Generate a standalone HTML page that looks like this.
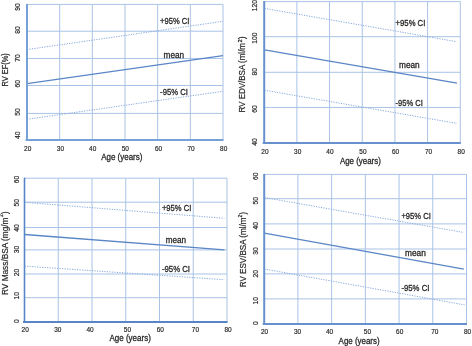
<!DOCTYPE html>
<html><head><meta charset="utf-8"><style>
html,body{margin:0;padding:0;background:#fff;}
svg{display:block;will-change:transform;filter:blur(0.3px);}
text{font-family:"Liberation Sans", sans-serif;fill:#262626;stroke:#262626;stroke-width:0.28px;}
.tk{stroke-width:0.18px;}
.yt{stroke-width:0.2px;}
</style></head><body>
<svg width="472" height="346" viewBox="0 0 472 346">
<rect width="472" height="346" fill="#fff"/>
<line x1="59.67" y1="4.4" x2="59.67" y2="140" stroke="#a9c3e6" stroke-width="1"/>
<line x1="92.33" y1="4.4" x2="92.33" y2="140" stroke="#a9c3e6" stroke-width="1"/>
<line x1="125" y1="4.4" x2="125" y2="140" stroke="#a9c3e6" stroke-width="1"/>
<line x1="157.67" y1="4.4" x2="157.67" y2="140" stroke="#a9c3e6" stroke-width="1"/>
<line x1="190.33" y1="4.4" x2="190.33" y2="140" stroke="#a9c3e6" stroke-width="1"/>
<line x1="223" y1="4.4" x2="223" y2="140" stroke="#a9c3e6" stroke-width="1"/>
<line x1="27" y1="4.4" x2="223" y2="4.4" stroke="#a9c3e6" stroke-width="1"/>
<line x1="27" y1="31.2" x2="223" y2="31.2" stroke="#a9c3e6" stroke-width="1"/>
<line x1="27" y1="58.45" x2="223" y2="58.45" stroke="#a9c3e6" stroke-width="1"/>
<line x1="27" y1="85.5" x2="223" y2="85.5" stroke="#a9c3e6" stroke-width="1"/>
<line x1="27" y1="113.4" x2="223" y2="113.4" stroke="#a9c3e6" stroke-width="1"/>
<line x1="27" y1="49.6" x2="223" y2="21.3" stroke="#86a9dc" stroke-width="1" stroke-dasharray="1.2 1.3"/>
<line x1="27" y1="83.7" x2="223" y2="55.7" stroke="#5a86c6" stroke-width="1.3"/>
<line x1="27" y1="119.3" x2="223" y2="91.3" stroke="#86a9dc" stroke-width="1" stroke-dasharray="1.2 1.3"/>
<line x1="27" y1="3.9" x2="27" y2="141" stroke="#76a1d7" stroke-width="2"/>
<line x1="25.5" y1="140" x2="223.5" y2="140" stroke="#76a1d7" stroke-width="2"/>
<text transform="translate(19.5,135.3) rotate(-90)" x="0" y="0" class="tk" text-anchor="middle" font-size="7" textLength="7.5" lengthAdjust="spacingAndGlyphs">40</text>
<text transform="translate(19.5,111.9) rotate(-90)" x="0" y="0" class="tk" text-anchor="middle" font-size="7" textLength="7.5" lengthAdjust="spacingAndGlyphs">50</text>
<text transform="translate(19.5,83.7) rotate(-90)" x="0" y="0" class="tk" text-anchor="middle" font-size="7" textLength="7.5" lengthAdjust="spacingAndGlyphs">60</text>
<text transform="translate(19.5,58.1) rotate(-90)" x="0" y="0" class="tk" text-anchor="middle" font-size="7" textLength="7.5" lengthAdjust="spacingAndGlyphs">70</text>
<text transform="translate(19.5,30.1) rotate(-90)" x="0" y="0" class="tk" text-anchor="middle" font-size="7" textLength="7.5" lengthAdjust="spacingAndGlyphs">80</text>
<text transform="translate(19.5,7.1) rotate(-90)" x="0" y="0" class="tk" text-anchor="middle" font-size="7" textLength="7.5" lengthAdjust="spacingAndGlyphs">90</text>
<text x="27.7" y="151" class="tk" text-anchor="middle" font-size="7" textLength="7.2" lengthAdjust="spacingAndGlyphs">20</text>
<text x="60.4" y="151" class="tk" text-anchor="middle" font-size="7" textLength="7.2" lengthAdjust="spacingAndGlyphs">30</text>
<text x="92.7" y="151" class="tk" text-anchor="middle" font-size="7" textLength="7.2" lengthAdjust="spacingAndGlyphs">40</text>
<text x="125.3" y="151" class="tk" text-anchor="middle" font-size="7" textLength="7.2" lengthAdjust="spacingAndGlyphs">50</text>
<text x="158.5" y="151" class="tk" text-anchor="middle" font-size="7" textLength="7.2" lengthAdjust="spacingAndGlyphs">60</text>
<text x="191" y="151" class="tk" text-anchor="middle" font-size="7" textLength="7.2" lengthAdjust="spacingAndGlyphs">70</text>
<text x="223.7" y="151" class="tk" text-anchor="middle" font-size="7" textLength="7.2" lengthAdjust="spacingAndGlyphs">80</text>
<text x="101.2" y="159.6" font-size="8.8" textLength="41.2" lengthAdjust="spacingAndGlyphs">Age (years)</text>
<text transform="translate(8,86.6) rotate(-90)" x="0" y="0" class="yt" font-size="8.3" textLength="33.4" lengthAdjust="spacingAndGlyphs">RV EF(%)</text>
<text x="160.1" y="24" font-size="8.3" textLength="29.3" lengthAdjust="spacingAndGlyphs">+95% CI</text>
<text x="163.6" y="57.7" font-size="8.3" textLength="20.5" lengthAdjust="spacingAndGlyphs">mean</text>
<text x="160.1" y="94.5" font-size="8.3" textLength="27.8" lengthAdjust="spacingAndGlyphs">-95% CI</text>
<line x1="296.88" y1="1.6" x2="296.88" y2="143" stroke="#a9c3e6" stroke-width="1"/>
<line x1="329.57" y1="1.6" x2="329.57" y2="143" stroke="#a9c3e6" stroke-width="1"/>
<line x1="362.25" y1="1.6" x2="362.25" y2="143" stroke="#a9c3e6" stroke-width="1"/>
<line x1="394.93" y1="1.6" x2="394.93" y2="143" stroke="#a9c3e6" stroke-width="1"/>
<line x1="427.62" y1="1.6" x2="427.62" y2="143" stroke="#a9c3e6" stroke-width="1"/>
<line x1="460.3" y1="1.6" x2="460.3" y2="143" stroke="#a9c3e6" stroke-width="1"/>
<line x1="264.2" y1="1.6" x2="460.3" y2="1.6" stroke="#a9c3e6" stroke-width="1"/>
<line x1="264.2" y1="36.7" x2="460.3" y2="36.7" stroke="#a9c3e6" stroke-width="1"/>
<line x1="264.2" y1="72.3" x2="460.3" y2="72.3" stroke="#a9c3e6" stroke-width="1"/>
<line x1="264.2" y1="107.45" x2="460.3" y2="107.45" stroke="#a9c3e6" stroke-width="1"/>
<line x1="264.5" y1="8.4" x2="456.8" y2="41.7" stroke="#86a9dc" stroke-width="1" stroke-dasharray="1.2 1.3"/>
<line x1="264.5" y1="49.9" x2="457" y2="83.2" stroke="#5a86c6" stroke-width="1.3"/>
<line x1="264.5" y1="90.2" x2="457" y2="123.4" stroke="#86a9dc" stroke-width="1" stroke-dasharray="1.2 1.3"/>
<line x1="264.2" y1="1.1" x2="264.2" y2="144" stroke="#6691cd" stroke-width="2"/>
<line x1="262.7" y1="143" x2="460.8" y2="143" stroke="#6691cd" stroke-width="2"/>
<text transform="translate(256.9,141.9) rotate(-90)" x="0" y="0" class="tk" text-anchor="middle" font-size="7" textLength="7.5" lengthAdjust="spacingAndGlyphs">40</text>
<text transform="translate(256.9,108.9) rotate(-90)" x="0" y="0" class="tk" text-anchor="middle" font-size="7" textLength="7.5" lengthAdjust="spacingAndGlyphs">60</text>
<text transform="translate(256.9,71.8) rotate(-90)" x="0" y="0" class="tk" text-anchor="middle" font-size="7" textLength="7.5" lengthAdjust="spacingAndGlyphs">80</text>
<text transform="translate(256.9,38.2) rotate(-90)" x="0" y="0" class="tk" text-anchor="middle" font-size="7" textLength="11.25" lengthAdjust="spacingAndGlyphs">100</text>
<text transform="translate(256.9,5.5) rotate(-90)" x="0" y="0" class="tk" text-anchor="middle" font-size="7" textLength="11.25" lengthAdjust="spacingAndGlyphs">120</text>
<text x="264.9" y="154.3" class="tk" text-anchor="middle" font-size="7" textLength="7.2" lengthAdjust="spacingAndGlyphs">20</text>
<text x="297.7" y="154.3" class="tk" text-anchor="middle" font-size="7" textLength="7.2" lengthAdjust="spacingAndGlyphs">30</text>
<text x="329.9" y="154.3" class="tk" text-anchor="middle" font-size="7" textLength="7.2" lengthAdjust="spacingAndGlyphs">40</text>
<text x="362.9" y="154.3" class="tk" text-anchor="middle" font-size="7" textLength="7.2" lengthAdjust="spacingAndGlyphs">50</text>
<text x="395.5" y="154.3" class="tk" text-anchor="middle" font-size="7" textLength="7.2" lengthAdjust="spacingAndGlyphs">60</text>
<text x="428.5" y="154.3" class="tk" text-anchor="middle" font-size="7" textLength="7.2" lengthAdjust="spacingAndGlyphs">70</text>
<text x="461.2" y="154.3" class="tk" text-anchor="middle" font-size="7" textLength="7.2" lengthAdjust="spacingAndGlyphs">80</text>
<text x="339.9" y="164.1" font-size="8.8" textLength="40.9" lengthAdjust="spacingAndGlyphs">Age (years)</text>
<text transform="translate(245.3,112.5) rotate(-90)" x="0" y="0" class="yt" font-size="8.3" textLength="69.5" lengthAdjust="spacingAndGlyphs">RV EDV/BSA (ml/m</text>
<text transform="translate(241.6,42.2) rotate(-90)" x="0" y="0" font-size="4.6" textLength="2.8" lengthAdjust="spacingAndGlyphs">2</text>
<text transform="translate(245.3,39) rotate(-90)" x="0" y="0" class="yt" font-size="8.3" textLength="2.5" lengthAdjust="spacingAndGlyphs">)</text>
<text x="395.6" y="26.1" font-size="8.3" textLength="29.7" lengthAdjust="spacingAndGlyphs">+95% CI</text>
<text x="399" y="67.7" font-size="8.3" textLength="20.7" lengthAdjust="spacingAndGlyphs">mean</text>
<text x="395.6" y="106.1" font-size="8.3" textLength="27.3" lengthAdjust="spacingAndGlyphs">-95% CI</text>
<line x1="58.25" y1="178.2" x2="58.25" y2="321.9" stroke="#a9c3e6" stroke-width="1"/>
<line x1="92" y1="178.2" x2="92" y2="321.9" stroke="#a9c3e6" stroke-width="1"/>
<line x1="125.75" y1="178.2" x2="125.75" y2="321.9" stroke="#a9c3e6" stroke-width="1"/>
<line x1="159.5" y1="178.2" x2="159.5" y2="321.9" stroke="#a9c3e6" stroke-width="1"/>
<line x1="193.25" y1="178.2" x2="193.25" y2="321.9" stroke="#a9c3e6" stroke-width="1"/>
<line x1="227" y1="178.2" x2="227" y2="321.9" stroke="#a9c3e6" stroke-width="1"/>
<line x1="24.5" y1="178.2" x2="227" y2="178.2" stroke="#a9c3e6" stroke-width="1"/>
<line x1="24.5" y1="202.2" x2="227" y2="202.2" stroke="#a9c3e6" stroke-width="1"/>
<line x1="24.5" y1="227.5" x2="227" y2="227.5" stroke="#a9c3e6" stroke-width="1"/>
<line x1="24.5" y1="249.9" x2="227" y2="249.9" stroke="#a9c3e6" stroke-width="1"/>
<line x1="24.5" y1="274" x2="227" y2="274" stroke="#a9c3e6" stroke-width="1"/>
<line x1="24.5" y1="297.7" x2="227" y2="297.7" stroke="#a9c3e6" stroke-width="1"/>
<line x1="24.6" y1="202.3" x2="224.3" y2="218.3" stroke="#86a9dc" stroke-width="1" stroke-dasharray="1.2 1.3"/>
<line x1="24.6" y1="234.5" x2="224.5" y2="249.8" stroke="#5a86c6" stroke-width="1.3"/>
<line x1="24.6" y1="266.1" x2="224.3" y2="279.7" stroke="#86a9dc" stroke-width="1" stroke-dasharray="1.2 1.3"/>
<line x1="24.5" y1="177.7" x2="24.5" y2="322.9" stroke="#5686c8" stroke-width="1.6"/>
<line x1="23" y1="321.9" x2="227.5" y2="321.9" stroke="#5686c8" stroke-width="2"/>
<text transform="translate(19.2,321.1) rotate(-90)" x="0" y="0" class="tk" text-anchor="middle" font-size="7" textLength="3.75" lengthAdjust="spacingAndGlyphs">0</text>
<text transform="translate(19.2,295.7) rotate(-90)" x="0" y="0" class="tk" text-anchor="middle" font-size="7" textLength="7.5" lengthAdjust="spacingAndGlyphs">10</text>
<text transform="translate(19.2,272.4) rotate(-90)" x="0" y="0" class="tk" text-anchor="middle" font-size="7" textLength="7.5" lengthAdjust="spacingAndGlyphs">20</text>
<text transform="translate(19.2,249.4) rotate(-90)" x="0" y="0" class="tk" text-anchor="middle" font-size="7" textLength="7.5" lengthAdjust="spacingAndGlyphs">30</text>
<text transform="translate(19.2,228.1) rotate(-90)" x="0" y="0" class="tk" text-anchor="middle" font-size="7" textLength="7.5" lengthAdjust="spacingAndGlyphs">40</text>
<text transform="translate(19.2,202.8) rotate(-90)" x="0" y="0" class="tk" text-anchor="middle" font-size="7" textLength="7.5" lengthAdjust="spacingAndGlyphs">50</text>
<text transform="translate(19.2,179.4) rotate(-90)" x="0" y="0" class="tk" text-anchor="middle" font-size="7" textLength="7.5" lengthAdjust="spacingAndGlyphs">60</text>
<text x="25.2" y="331.8" class="tk" text-anchor="middle" font-size="7" textLength="7.2" lengthAdjust="spacingAndGlyphs">20</text>
<text x="57.8" y="331.8" class="tk" text-anchor="middle" font-size="7" textLength="7.2" lengthAdjust="spacingAndGlyphs">30</text>
<text x="90.1" y="331.8" class="tk" text-anchor="middle" font-size="7" textLength="7.2" lengthAdjust="spacingAndGlyphs">40</text>
<text x="127.4" y="331.8" class="tk" text-anchor="middle" font-size="7" textLength="7.2" lengthAdjust="spacingAndGlyphs">50</text>
<text x="160.3" y="331.8" class="tk" text-anchor="middle" font-size="7" textLength="7.2" lengthAdjust="spacingAndGlyphs">60</text>
<text x="195.4" y="331.8" class="tk" text-anchor="middle" font-size="7" textLength="7.2" lengthAdjust="spacingAndGlyphs">70</text>
<text x="228.1" y="331.8" class="tk" text-anchor="middle" font-size="7" textLength="7.2" lengthAdjust="spacingAndGlyphs">80</text>
<text x="109.5" y="341.4" font-size="8.8" textLength="41.3" lengthAdjust="spacingAndGlyphs">Age (years)</text>
<text transform="translate(8,295) rotate(-90)" x="0" y="0" class="yt" font-size="8.3" textLength="77.5" lengthAdjust="spacingAndGlyphs">RV Mass/BSA (mg/m</text>
<text transform="translate(3.2,216.8) rotate(-90)" x="0" y="0" font-size="4.6" textLength="2.4" lengthAdjust="spacingAndGlyphs">2</text>
<text transform="translate(8,214.1) rotate(-90)" x="0" y="0" class="yt" font-size="8.3" textLength="2.6" lengthAdjust="spacingAndGlyphs">)</text>
<text x="161.9" y="210.9" font-size="8.3" textLength="29.4" lengthAdjust="spacingAndGlyphs">+95% CI</text>
<text x="165.7" y="242.9" font-size="8.3" textLength="20.3" lengthAdjust="spacingAndGlyphs">mean</text>
<text x="161.9" y="272.2" font-size="8.3" textLength="28.1" lengthAdjust="spacingAndGlyphs">-95% CI</text>
<line x1="297.92" y1="174.4" x2="297.92" y2="323.9" stroke="#a9c3e6" stroke-width="1"/>
<line x1="331.63" y1="174.4" x2="331.63" y2="323.9" stroke="#a9c3e6" stroke-width="1"/>
<line x1="365.35" y1="174.4" x2="365.35" y2="323.9" stroke="#a9c3e6" stroke-width="1"/>
<line x1="399.07" y1="174.4" x2="399.07" y2="323.9" stroke="#a9c3e6" stroke-width="1"/>
<line x1="432.78" y1="174.4" x2="432.78" y2="323.9" stroke="#a9c3e6" stroke-width="1"/>
<line x1="466.5" y1="174.4" x2="466.5" y2="323.9" stroke="#a9c3e6" stroke-width="1"/>
<line x1="264.2" y1="174.4" x2="466.5" y2="174.4" stroke="#a9c3e6" stroke-width="1"/>
<line x1="264.2" y1="198.7" x2="466.5" y2="198.7" stroke="#a9c3e6" stroke-width="1"/>
<line x1="264.2" y1="223.9" x2="466.5" y2="223.9" stroke="#a9c3e6" stroke-width="1"/>
<line x1="264.2" y1="249" x2="466.5" y2="249" stroke="#a9c3e6" stroke-width="1"/>
<line x1="264.2" y1="273.9" x2="466.5" y2="273.9" stroke="#a9c3e6" stroke-width="1"/>
<line x1="264.2" y1="298.9" x2="466.5" y2="298.9" stroke="#a9c3e6" stroke-width="1"/>
<line x1="264.3" y1="197.5" x2="463.8" y2="232.5" stroke="#86a9dc" stroke-width="1" stroke-dasharray="1.2 1.3"/>
<line x1="264.3" y1="233.1" x2="463.8" y2="269.1" stroke="#5a86c6" stroke-width="1.3"/>
<line x1="264.3" y1="269" x2="464.6" y2="304.9" stroke="#86a9dc" stroke-width="1" stroke-dasharray="1.2 1.3"/>
<line x1="264.2" y1="173.9" x2="264.2" y2="324.9" stroke="#6691cd" stroke-width="2"/>
<line x1="262.7" y1="323.9" x2="467" y2="323.9" stroke="#6691cd" stroke-width="2"/>
<text transform="translate(257.6,323) rotate(-90)" x="0" y="0" class="tk" text-anchor="middle" font-size="7" textLength="3.75" lengthAdjust="spacingAndGlyphs">0</text>
<text transform="translate(257.6,300.7) rotate(-90)" x="0" y="0" class="tk" text-anchor="middle" font-size="7" textLength="7.5" lengthAdjust="spacingAndGlyphs">10</text>
<text transform="translate(257.6,273.7) rotate(-90)" x="0" y="0" class="tk" text-anchor="middle" font-size="7" textLength="7.5" lengthAdjust="spacingAndGlyphs">20</text>
<text transform="translate(257.6,251.1) rotate(-90)" x="0" y="0" class="tk" text-anchor="middle" font-size="7" textLength="7.5" lengthAdjust="spacingAndGlyphs">30</text>
<text transform="translate(257.6,225.8) rotate(-90)" x="0" y="0" class="tk" text-anchor="middle" font-size="7" textLength="7.5" lengthAdjust="spacingAndGlyphs">40</text>
<text transform="translate(257.6,200.7) rotate(-90)" x="0" y="0" class="tk" text-anchor="middle" font-size="7" textLength="7.5" lengthAdjust="spacingAndGlyphs">50</text>
<text transform="translate(257.6,176.2) rotate(-90)" x="0" y="0" class="tk" text-anchor="middle" font-size="7" textLength="7.5" lengthAdjust="spacingAndGlyphs">60</text>
<text x="264.5" y="333.8" class="tk" text-anchor="middle" font-size="7" textLength="7.2" lengthAdjust="spacingAndGlyphs">20</text>
<text x="297.5" y="333.8" class="tk" text-anchor="middle" font-size="7" textLength="7.2" lengthAdjust="spacingAndGlyphs">30</text>
<text x="329.6" y="333.8" class="tk" text-anchor="middle" font-size="7" textLength="7.2" lengthAdjust="spacingAndGlyphs">40</text>
<text x="367.4" y="333.8" class="tk" text-anchor="middle" font-size="7" textLength="7.2" lengthAdjust="spacingAndGlyphs">50</text>
<text x="399.7" y="333.8" class="tk" text-anchor="middle" font-size="7" textLength="7.2" lengthAdjust="spacingAndGlyphs">60</text>
<text x="434.8" y="333.8" class="tk" text-anchor="middle" font-size="7" textLength="7.2" lengthAdjust="spacingAndGlyphs">70</text>
<text x="467.6" y="333.8" class="tk" text-anchor="middle" font-size="7" textLength="7.2" lengthAdjust="spacingAndGlyphs">80</text>
<text x="338.6" y="343.9" font-size="8.8" textLength="41" lengthAdjust="spacingAndGlyphs">Age (years)</text>
<text transform="translate(246,287.3) rotate(-90)" x="0" y="0" class="yt" font-size="8.3" textLength="69.8" lengthAdjust="spacingAndGlyphs">RV ESV/BSA (ml/m</text>
<text transform="translate(242.3,217.2) rotate(-90)" x="0" y="0" font-size="4.6" textLength="2.3" lengthAdjust="spacingAndGlyphs">2</text>
<text transform="translate(246,214.5) rotate(-90)" x="0" y="0" class="yt" font-size="8.3" textLength="2.6" lengthAdjust="spacingAndGlyphs">)</text>
<text x="401.4" y="218.9" font-size="8.3" textLength="29.4" lengthAdjust="spacingAndGlyphs">+95% CI</text>
<text x="405" y="255.7" font-size="8.3" textLength="20.8" lengthAdjust="spacingAndGlyphs">mean</text>
<text x="401.4" y="290.9" font-size="8.3" textLength="28" lengthAdjust="spacingAndGlyphs">-95% CI</text>
</svg>
</body></html>
